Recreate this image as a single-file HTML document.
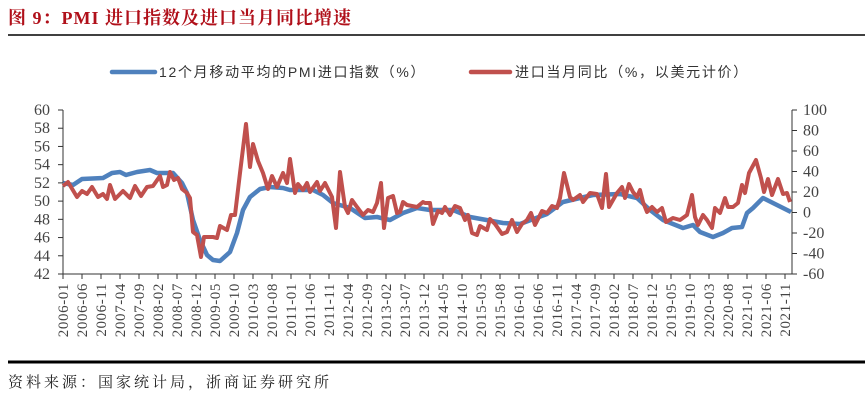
<!DOCTYPE html>
<html><head><meta charset="utf-8"><style>
html,body{margin:0;padding:0;background:#fff;}
body{width:865px;height:401px;position:relative;overflow:hidden;}
</style></head><body>
<svg width="865" height="401" xmlns="http://www.w3.org/2000/svg" style="position:absolute;left:0;top:0">
<text x="8" y="24" font-family="Liberation Serif, Noto Serif CJK SC, serif" font-weight="bold" font-size="18" fill="#b0101a" letter-spacing="1">图 9：PMI 进口指数及进口当月同比增速</text>
<line x1="8" y1="35" x2="865" y2="35" stroke="#000" stroke-width="1.5"/>
<line x1="112" y1="72" x2="155" y2="72" stroke="#4f81bd" stroke-width="4.5" stroke-linecap="round"/>
<text x="159" y="77" font-family="Liberation Sans, Noto Sans CJK SC, sans-serif" font-size="14" fill="#333" letter-spacing="1.7">12个月移动平均的PMI进口指数（%）</text>
<line x1="471" y1="72" x2="510" y2="72" stroke="#c0504d" stroke-width="4.5" stroke-linecap="round"/>
<text x="515" y="77" font-family="Liberation Sans, Noto Sans CJK SC, sans-serif" font-size="14" fill="#333" letter-spacing="1.7">进口当月同比（%，以美元计价）</text>
<g stroke="#333" stroke-width="1" fill="none">
<line x1="63" y1="110" x2="63" y2="274"/>
<line x1="792" y1="110" x2="792" y2="274"/>
<line x1="63" y1="274" x2="792" y2="274"/>
</g>
<g stroke="#333" stroke-width="1" id="lt"></g>
<g font-family="Liberation Serif, serif" font-size="16" fill="#444" text-anchor="end" id="ll"></g>
<g font-family="Liberation Serif, serif" font-size="16" fill="#444" text-anchor="start" id="rl"></g>
<g font-family="Liberation Serif, serif" font-size="15" fill="#444" text-anchor="end" letter-spacing="0.6" id="xl"></g>
<polyline fill="none" stroke="#4f81bd" stroke-width="4.5" stroke-linejoin="round" points="63,183 73,185 82,179 103,178 112,173 120,172 126,175 137,172 150,170 157,173 173,173 182,183 187,193 193,220 200,240 207,255 213,260 220,261 230,252 237,233 243,210 250,197 260,189 270,187 283,188 290,190 313,190 323,195 333,203 350,208 365,218 377,217 390,220 403,213 417,208 430,210 453,210 470,217 503,223 520,224 547,214 563,202 580,198 593,195 620,194 637,198 650,210 663,220 683,228 693,225 700,232 713,237 723,233 732,228 742,227 747,213 753,208 763,198 773,203 783,208 791,212"/>
<polyline fill="none" stroke="#c0504d" stroke-width="4" stroke-linejoin="round" points="63,186 68,182 77,197 82,191 87,194 92,187 98,197 103,194 107,199 110,185 115,199 123,191 130,198 135,186 141,196 147,187 153,186 160,176 163,187 167,185 170,172 174,180 178,178 182,189 187,193 190,198 193,232 197,235 201,257 204,237 213,237 217,238 220,226 227,230 231,215 235,215 240,173 246,124 250,167 253,144 258,161 263,173 268,189 272,176 277,187 283,173 287,183 290,159 295,193 298,184 303,190 307,183 310,192 317,182 320,191 325,183 332,197 336,228 340,172 345,207 348,213 352,200 357,207 363,215 368,210 373,212 377,203 381,183 384,228 388,198 393,196 397,213 400,212 403,202 407,205 417,207 423,202 425,203 430,203 433,224 438,211 442,213 445,207 450,215 455,206 460,208 465,220 468,215 472,233 477,235 480,226 487,230 490,219 495,224 502,234 507,232 512,220 517,232 522,224 527,220 531,213 535,225 542,211 547,213 552,206 557,208 560,198 564,173 570,197 573,200 580,195 583,202 590,193 597,194 602,208 606,174 609,207 617,193 622,187 625,198 629,184 633,192 637,197 640,190 643,202 647,212 652,207 657,212 662,208 666,222 673,218 680,220 687,215 692,195 695,217 698,225 703,215 707,220 712,228 715,208 720,213 725,198 728,207 733,207 738,203 742,185 745,193 749,173 756,160 761,178 764,192 768,179 772,195 778,179 783,194 787,193 790,202"/>
<line x1="8" y1="362" x2="865" y2="362" stroke="#000" stroke-width="3"/>
<text x="8" y="387" font-family="Liberation Serif, Noto Serif CJK SC, serif" font-size="15" fill="#222" letter-spacing="3">资料来源：国家统计局，浙商证券研究所</text>
</svg>
<script>
var ns="http://www.w3.org/2000/svg";
function el(p,t,a,txt){var e=document.createElementNS(ns,t);for(var k in a)e.setAttribute(k,a[k]);if(txt!=null)e.textContent=txt;document.getElementById(p).appendChild(e);}
for(var i=0;i<10;i++){var y=110+i*164/9;el('lt','line',{x1:58,y1:y,x2:63,y2:y});el('ll','text',{x:50,y:y+5},String(60-2*i));}
for(var i=0;i<9;i++){var y=110+i*164/8;el('lt','line',{x1:792,y1:y,x2:797,y2:y});el('rl','text',{x:803,y:y+5},String(100-20*i));}
for(var k=0;k<=38;k++){var x=63+k*19.0;el('lt','line',{x1:x,y1:274,x2:x,y2:279});var m=k*5;var yr=2006+Math.floor(m/12),mo=m%12+1;var s=yr+'-'+(mo<10?'0':'')+mo;el('xl','text',{x:0,y:0,transform:'translate('+(x+5)+',283) rotate(-90)'},s);}
</script>
</body></html>
